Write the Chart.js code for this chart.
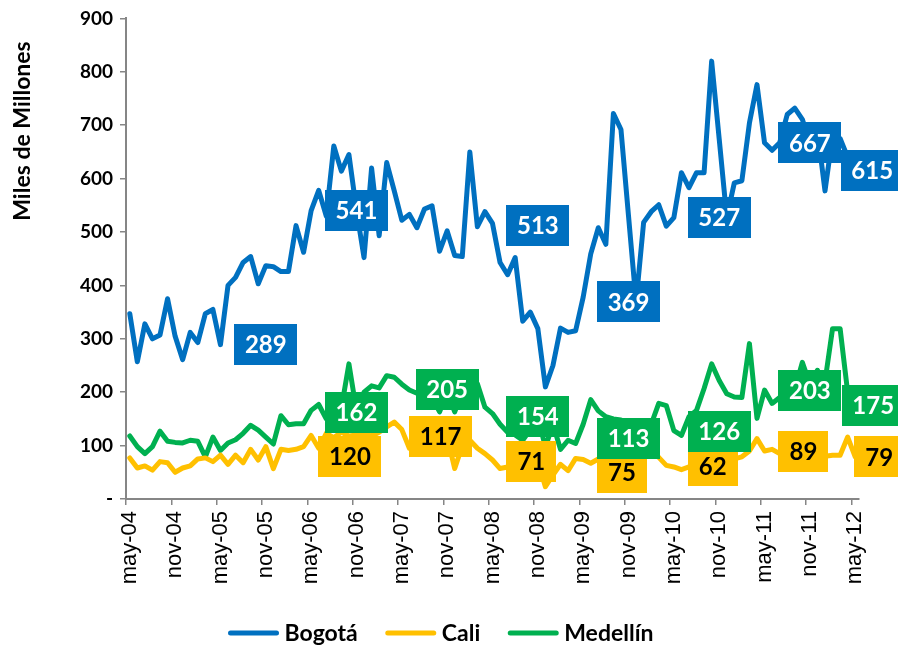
<!DOCTYPE html>
<html><head><meta charset="utf-8">
<script src="https://cdn.jsdelivr.net/npm/chart.js@4.4.0/dist/chart.umd.min.js"></script>
<style>html,body{margin:0;padding:0;background:#fff;}#wrap{width:898px;height:649px;}</style>
</head><body><div id="wrap"><canvas id="c" width="898" height="649"></canvas></div>
<script>
const months = [
'may-04','jun-04','jul-04','ago-04','sep-04','oct-04','nov-04','dic-04',
'ene-05','feb-05','mar-05','abr-05','may-05','jun-05','jul-05','ago-05','sep-05','oct-05','nov-05','dic-05',
'ene-06','feb-06','mar-06','abr-06','may-06','jun-06','jul-06','ago-06','sep-06','oct-06','nov-06','dic-06',
'ene-07','feb-07','mar-07','abr-07','may-07','jun-07','jul-07','ago-07','sep-07','oct-07','nov-07','dic-07',
'ene-08','feb-08','mar-08','abr-08','may-08','jun-08','jul-08','ago-08','sep-08','oct-08','nov-08','dic-08',
'ene-09','feb-09','mar-09','abr-09','may-09','jun-09','jul-09','ago-09','sep-09','oct-09','nov-09','dic-09',
'ene-10','feb-10','mar-10','abr-10','may-10','jun-10','jul-10','ago-10','sep-10','oct-10','nov-10','dic-10',
'ene-11','feb-11','mar-11','abr-11','may-11','jun-11','jul-11','ago-11','sep-11','oct-11','nov-11','dic-11',
'ene-12','feb-12','mar-12','abr-12','may-12'];

const bogota = [
347,257,328,300,307,375,305,261,312,293,
347,355,289,400,415,443,454,403,437,435,
426,426,512,462,540,578,530,661,614,645,
541,452,620,493,630,577,522,533,508,543,
549,464,502,456,454,650,510,538,516,443,
420,452,333,350,319,210,250,320,312,315,
378,459,508,477,722,692,530,369,518,538,
551,511,527,611,583,611,611,820,674,527,
592,596,704,776,667,653,667,720,732,711,
667,690,577,680,675,640,615];

const cali = [
77,58,62,54,70,68,50,58,62,75,
77,70,82,65,82,68,93,73,98,57,
93,91,93,98,119,95,123,115,125,118,
120,122,118,125,135,144,130,95,100,110,
120,115,117,57,100,110,95,85,73,57,
60,65,70,62,71,23,45,65,53,76,
74,67,75,80,85,78,75,80,82,85,
78,63,60,55,60,70,62,75,62,70,
75,79,90,113,90,93,85,90,95,92,
89,85,80,82,82,116,79];

const medellin = [
118,98,85,98,127,108,106,105,110,108,
79,116,91,105,111,123,138,129,116,103,
156,139,141,141,166,177,150,160,170,253,
165,200,212,208,231,228,215,204,198,195,
190,163,200,163,200,210,216,172,160,140,
125,120,110,130,154,97,140,93,110,104,
140,186,165,154,150,148,113,125,115,140,
179,175,128,119,154,166,207,253,222,197,
191,190,291,151,204,179,190,200,205,256,
215,241,220,319,319,200,175];

const yTicks = [0,100,200,300,400,500,600,700,800,900];
const seriesNames = ['Bogotá','Cali','Medellín'];
const yTitle = 'Miles de Millones';

// boxed value labels (month index each label refers to, and its value)
const bogotaLabelMonths = [18,30,54,66,78,90,96];
const bogotaLabels = [289,541,513,369,527,667,615];
const otherLabelMonths = [30,42,54,66,78,90,96];
const caliLabels = [120,117,71,75,62,89,79];
const medellinLabels = [162,205,154,113,126,203,175];

const BLUE='#0070C0', GOLD='#FFC000', GREEN='#00B050';

const boxLabelPlugin = {
  id:'boxLabels',
  afterDatasetsDraw(chart){
    const {ctx, scales:{x,y}} = chart;
    const groups = [
      {months:bogotaLabelMonths, vals:bogotaLabels, bg:BLUE, fg:'#fff', lastDx:17, dx:0, dy:{}},
      {months:otherLabelMonths, vals:caliLabels, bg:GOLD, fg:'#000', lastDx:24, dx:-6.5, dy:{0:21.5,3:13.7}},
      {months:otherLabelMonths, vals:medellinLabels, bg:GREEN, fg:'#fff', lastDx:18, dx:0, dy:{}}
    ];
    ctx.save();
    ctx.font = 'bold 24px Lato';
    ctx.textAlign='center'; ctx.textBaseline='middle';
    groups.forEach(g=>{
      g.vals.forEach((v,k)=>{
        const txt = String(v);
        const w = txt.length>=3 ? 63 : 50, h = 41;
        const last = k===g.vals.length-1;
        const cx = x.getPixelForValue(g.months[k]) + (last ? g.lastDx : g.dx);
        const cy = y.getPixelForValue(v) + (g.dy[k]||0);
        ctx.fillStyle = g.bg;
        ctx.fillRect(Math.round(cx-w/2), Math.round(cy-h/2), w, h);
        ctx.fillStyle = g.fg;
        ctx.fillText(txt, cx, cy+1);
      });
    });
    ctx.restore();
  },
  afterDraw(chart){
    const ctx = chart.ctx;
    ctx.save();
    // y axis title
    ctx.translate(23, 131);
    ctx.rotate(-Math.PI/2);
    ctx.font = 'bold 23px Lato';
    ctx.fillStyle = '#000';
    ctx.textAlign = 'center'; ctx.textBaseline = 'middle';
    ctx.fillText(yTitle, 0, 0);
    ctx.restore();
    // legend
    ctx.save();
    ctx.font = 'bold 23px Lato';
    ctx.textBaseline = 'middle';
    const lineW = 50, gapT = 6, gapI = 28, ly = 633;
    const items = chart.data.datasets.map(d=>({text:d.label, color:d.borderColor, w:ctx.measureText(d.label).width}));
    const total = items.reduce((s,it)=>s+lineW+gapT+it.w,0) + gapI*(items.length-1);
    let xx = 441 - total/2;
    items.forEach(it=>{
      ctx.strokeStyle = it.color; ctx.lineWidth = 5; ctx.lineCap = 'round';
      ctx.beginPath(); ctx.moveTo(xx+2, ly); ctx.lineTo(xx+lineW-2, ly); ctx.stroke();
      ctx.fillStyle = '#000';
      ctx.fillText(it.text, xx+lineW+gapT, ly+1);
      xx += lineW + gapT + it.w + gapI;
    });
    ctx.restore();
  }
};

const ds = (label, data, color) => ({label, data, borderColor:color, backgroundColor:color,
  borderWidth:5, pointRadius:0, tension:0, borderJoinStyle:'round', borderCapStyle:'round', fill:false});

new Chart(document.getElementById('c'), {
  type:'line',
  data:{labels:months, datasets:[ds(seriesNames[0],bogota,BLUE), ds(seriesNames[1],cali,GOLD), ds(seriesNames[2],medellin,GREEN)]},
  options:{
    responsive:false, animation:false, devicePixelRatio:1,
    layout:{padding:{top:17,right:39,left:0,bottom:0}},
    scales:{
      x:{type:'category', offset:true,
        grid:{offset:true, drawOnChartArea:false, drawTicks:true, tickLength:6, lineWidth:1.5,
          color:c=> (c.index%6===0 ? '#868686' : 'rgba(0,0,0,0)')},
        border:{color:'#868686', width:2},
        ticks:{autoSkip:false, maxRotation:90, minRotation:90, color:'#000', padding:6,
          font:{family:'Liberation Sans', size:22},
          callback:(v,i)=> (i%6===0 ? months[i] : '')},
        afterFit:s=>{ s.height = 150; }
      },
      y:{min:0, max:900,
        afterBuildTicks:s=>{ s.ticks = yTicks.map(v=>({value:v})); },
        ticks:{color:'#000', padding:7, font:{family:'Lato', weight:'bold', size:19},
          callback:v=> (v===0 ? '-' : v)},
        grid:{drawOnChartArea:false, tickLength:6, color:'#868686', lineWidth:1.5},
        border:{color:'#868686', width:2},
        afterFit:s=>{ s.width = 126; }
      }
    },
    plugins:{ tooltip:{enabled:false}, legend:{display:false} }
  },
  plugins:[boxLabelPlugin]
});
</script></body></html>
